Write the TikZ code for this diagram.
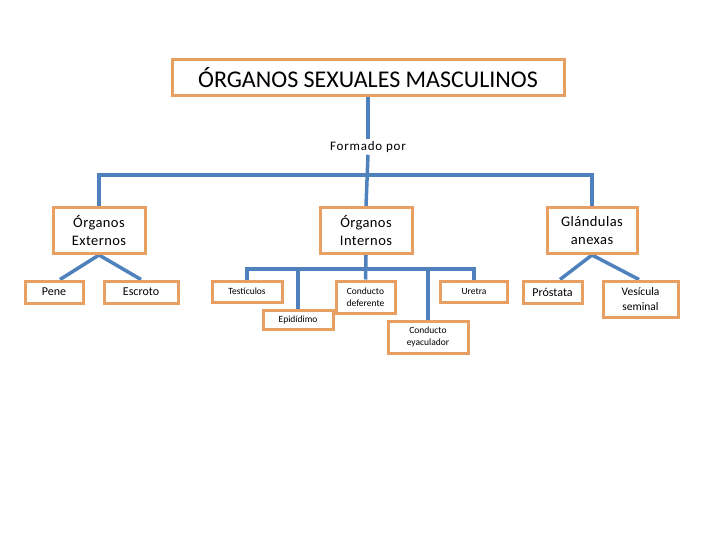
\documentclass[tikz,border=0pt]{standalone}
\usepackage{fontspec}
\setmainfont{Carlito}
\newfontfamily\spacedfont[LetterSpace=6]{Carlito}
\newfontfamily\lightspaced[LetterSpace=3]{Carlito}
\usetikzlibrary{backgrounds}
\definecolor{boxor}{RGB}{232,160,98}
\definecolor{linebl}{RGB}{79,129,189}
\begin{document}
\begin{tikzpicture}[x=1pt,y=-1pt,
  box/.style={draw=boxor, line width=3pt, fill=white, inner sep=0pt, align=center},
  conn/.style={draw=linebl, line width=3.5pt},
  big/.style={font=\lightspaced\fontsize{14.5}{18.5}\selectfont},
  mid/.style={font=\fontsize{12}{14}\selectfont},
  sml/.style={font=\fontsize{9.5}{12}\selectfont}]
\useasboundingbox (0,0) rectangle (720,540);
% title
\node[box, minimum width=392pt, minimum height=36pt, font=\fontsize{24}{26}\selectfont] (title) at (368,78) {ÓRGANOS SEXUALES MASCULINOS};
\node[font=\spacedfont\fontsize{13}{14}\selectfont, inner sep=2pt] (formado) at (368,147) {Formado por};
% level 1
\node[box, big, minimum width=92pt, minimum height=46pt] (ext) at (99,230.5) {Órganos\\Externos};
\node[box, big, minimum width=92pt, minimum height=46pt] (int) at (366,230.5) {Órganos\\Internos};
\node[box, big, minimum width=90pt, minimum height=46pt] (gla) at (592,230.5) {Glándulas\\anexas};
% externos children
\node[box, mid, minimum width=58pt, minimum height=22pt] (pene) at (54,292) {Pene};
\node[box, mid, minimum width=74pt, minimum height=22pt] (escr) at (141,292) {Escroto};
% internos children
\node[box, sml, minimum width=70pt, minimum height=21pt] (test) at (247,291.5) {Testículos};
\node[box, sml, minimum width=70pt, minimum height=19pt] (epi) at (298,319.5) {Epidídimo};
\node[box, sml, minimum width=59pt, minimum height=32pt] (def) at (365.5,297) {Conducto\\deferente};
\node[box, sml, minimum width=80pt, minimum height=32pt] (eya) at (428,337) {Conducto\\eyaculador};
\node[box, sml, minimum width=67pt, minimum height=21pt] (ure) at (474,291.5) {Uretra};
% glandulas children
\node[box, mid, minimum width=59pt, minimum height=22pt] (pros) at (552.5,292) {Próstata};
\node[box, mid, minimum width=75pt, minimum height=36pt, font=\fontsize{11.5}{15}\selectfont] (ves) at (640.5,299) {Vesícula\\seminal};
\coordinate (busA) at (366,175);
\coordinate (busB) at (365,269);
\begin{scope}[on background layer]
\draw[conn] (title.south) -- (formado.north);
\draw[conn] (formado.south) -- (int.north);
\draw[conn] (ext.north) |- (busA) -| (gla.north);
\draw[conn] (ext.south) -- ([xshift=6pt]pene.north);
\draw[conn] (ext.south) -- (escr.north);
\draw[conn] (test.north) |- (busB) -| (ure.north);
\draw[conn] (int.south) -- (def.north);
\draw[conn] (epi.north) -- (epi.north |- busB);
\draw[conn] (eya.north) -- (eya.north |- busB);
\draw[conn] (gla.south) -- ([xshift=7.5pt]pros.north);
\draw[conn] (gla.south) -- ([xshift=-1.5pt]ves.north);
\end{scope}
\end{tikzpicture}
\end{document}
